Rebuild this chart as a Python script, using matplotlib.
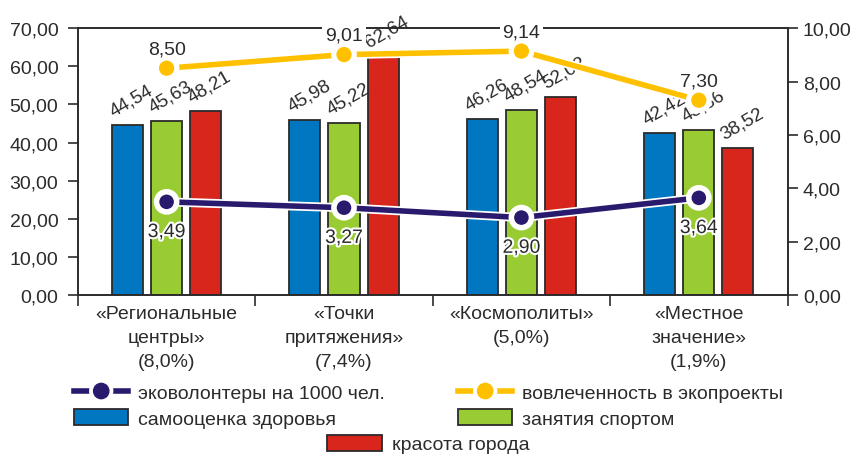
import numpy as np
import matplotlib
matplotlib.use('Agg')
import matplotlib.pyplot as plt
import matplotlib.patheffects as pe
from matplotlib.lines import Line2D

plt.rcParams['font.family'] = ['Liberation Sans', 'DejaVu Sans']
plt.rcParams['font.size'] = 14

categories = ['«Региональные\nцентры»\n(8,0%)', '«Точки\nпритяжения»\n(7,4%)',
              '«Космополиты»\n(5,0%)', '«Местное\nзначение»\n(1,9%)']
health = [44.54, 45.98, 46.26, 42.42]
sport = [45.63, 45.22, 48.54, 43.36]
beauty = [48.21, 62.64, 52.02, 38.52]
volunteers = [3.49, 3.27, 2.90, 3.64]
engagement = [8.50, 9.01, 9.14, 7.30]

c_blue = '#0077c0'
c_green = '#99cc33'
c_red = '#d9261c'
c_purple = '#2a1a6e'
c_yellow = '#ffc000'
c_dark = '#2b2b2b'


def fmt(v):
    return f'{v:.2f}'.replace('.', ',')


fig = plt.figure(figsize=(8.56, 4.56), dpi=100)
ax = fig.add_axes([0.091, 0.351, 0.829, 0.585])
ax2 = ax.twinx()

x = np.arange(len(categories))
w = 0.175
step = 0.22
bars = []
for i, (vals, col) in enumerate([(health, c_blue), (sport, c_green), (beauty, c_red)]):
    b = ax.bar(x + (i - 1) * step, vals, w, color=col, edgecolor=c_dark, linewidth=1.3, zorder=2)
    bars.append(b)
    for xi, v in zip(x + (i - 1) * step, vals):
        ax.annotate(fmt(v), (xi, v), xytext=(3, 4), textcoords='offset points',
                    rotation=30, ha='center', va='bottom', color=c_dark,
                    fontsize=13.5, zorder=3)

ax.set_xlim(-0.5, 3.5)
ax.set_ylim(0, 70)
ax.set_yticks(np.arange(0, 71, 10))
ax.set_yticklabels([fmt(v) for v in np.arange(0, 71, 10)])
ax.set_xticks(x)
ax.set_xticklabels(categories)
for lbl in ax.get_xticklabels():
    lbl.set_linespacing(1.55)
ax.set_xticks(np.arange(-0.5, 3.6, 1), minor=True)
ax.tick_params(axis='x', which='major', length=0, pad=7, colors=c_dark)
ax.tick_params(axis='x', which='minor', length=8, width=1.2, color=c_dark)
ax.tick_params(axis='y', length=7, width=1.2, color=c_dark, labelcolor=c_dark, pad=7)

ax2.set_ylim(0, 10)
ax2.set_yticks(np.arange(0, 11, 2))
ax2.set_yticklabels([fmt(v) for v in np.arange(0, 11, 2)])
ax2.tick_params(axis='y', length=7, width=1.2, color=c_dark, labelcolor=c_dark, pad=4)

for a in (ax, ax2):
    for s in a.spines.values():
        s.set_color(c_dark)
        s.set_linewidth(1.2)

stroke = [pe.Stroke(linewidth=6.5, foreground='white'), pe.Normal()]
ax2.plot(x, volunteers, color=c_purple, lw=4, marker='o', ms=12,
         mec='white', mew=1.5, path_effects=stroke, zorder=4)
ax2.plot(x, engagement, color=c_yellow, lw=4, marker='o', ms=12,
         mec='white', mew=1.0, path_effects=stroke, zorder=4)

for xi, v in zip(x, volunteers):
    ax2.annotate(fmt(v), (xi, v), xytext=(0, -16), textcoords='offset points',
                 ha='center', va='top', color=c_dark, zorder=5,
                 path_effects=[pe.withStroke(linewidth=3, foreground='white')])
for xi, v in zip(x, engagement):
    ax2.annotate(fmt(v), (xi, v), xytext=(0, 8), textcoords='offset points',
                 ha='center', va='bottom', color=c_dark, zorder=5,
                 bbox=dict(boxstyle='square,pad=0.15', fc='white', ec='none'))

# legend: row-wise order -> matplotlib fills column-wise
h_vol = Line2D([], [], color=c_purple, lw=4, marker='o', ms=11, mec=c_purple,
               path_effects=stroke)
h_eng = Line2D([], [], color=c_yellow, lw=4, marker='o', ms=11, mec=c_yellow,
               path_effects=stroke)
leg1 = fig.legend([h_vol, bars[0], h_eng, bars[1]],
                  ['эковолонтеры на 1000 чел.', 'самооценка здоровья',
                   'вовлеченность в экопроекты', 'занятия спортом'],
                  ncol=2, loc='center left', bbox_to_anchor=(0.066, 0.108),
                  frameon=False, handlelength=2.8, handleheight=0.88,
                  handletextpad=0.5, columnspacing=3.75, labelspacing=0.35)
for t in leg1.get_texts():
    t.set_color(c_dark)
leg2 = fig.legend([bars[2]], ['красота города'], loc='center left',
                  bbox_to_anchor=(0.362, 0.024), frameon=False, handlelength=2.8,
                  handleheight=0.88, handletextpad=0.5)
for t in leg2.get_texts():
    t.set_color(c_dark)

fig.savefig('out.png', dpi=100)
